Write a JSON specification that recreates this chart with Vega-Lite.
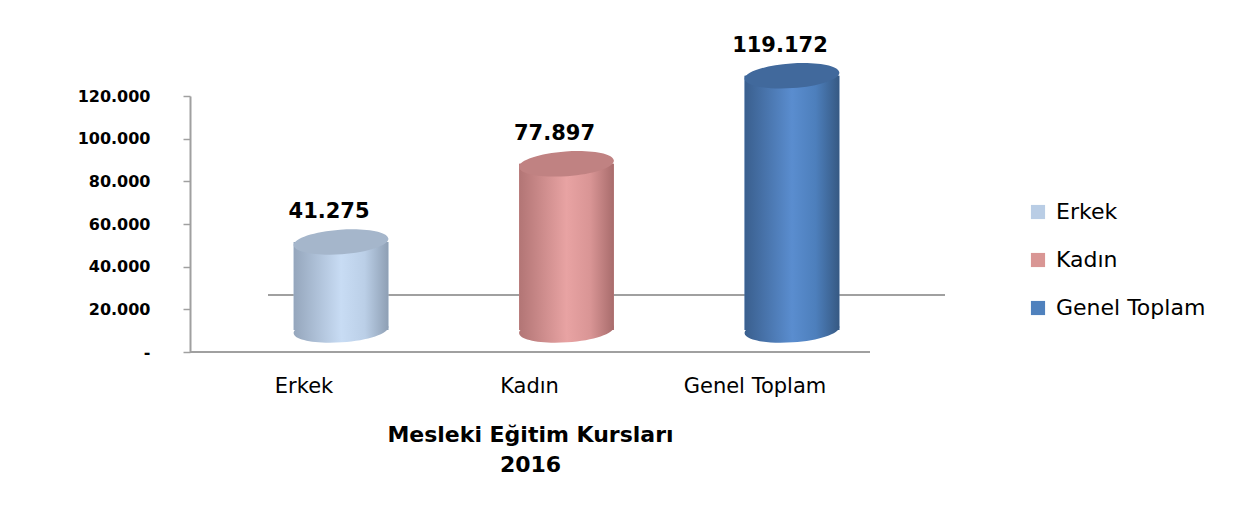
{
  "$schema": "https://vega.github.io/schema/vega-lite/v6.json",
  "width": 703,
  "height": 256,
  "autosize": {"type": "none"},
  "padding": {"left": 215, "top": 96, "right": 321, "bottom": 167},
  "background": "white",
  "config": {
    "view": {"stroke": null},
    "font": "DejaVu Sans",
    "locale": {"number": {"decimal": ",", "thousands": ".", "grouping": [3], "currency": ["", ""]}}
  },
  "data": {
    "values": [
      {"category": "Erkek", "value": 41275},
      {"category": "Kadın", "value": 77897},
      {"category": "Genel Toplam", "value": 119172}
    ]
  },
  "encoding": {
    "x": {
      "field": "category",
      "type": "nominal",
      "sort": null,
      "scale": {"domain": ["Erkek", "Kadın", "Genel Toplam"], "paddingInner": 0.58, "paddingOuter": 0.349},
      "axis": {
        "labelAngle": 0,
        "labelFont": "DejaVu Sans",
        "labelFontSize": 21,
        "labelColor": "#000000",
        "labelPadding": 23,
        "labelOffset": -37,
        "ticks": false,
        "domain": false,
        "title": ["Mesleki Eğitim Kursları", "2016"],
        "titleFont": "DejaVu Sans",
        "titleFontSize": 22,
        "titleFontWeight": "bold",
        "titleColor": "#000000",
        "titleX": 315,
        "titleY": 72,
        "titleBaseline": "top",
        "titleLineHeight": 30
      }
    }
  },
  "layer": [
    {
      "mark": {"type": "rule", "color": "#a0a0a0", "strokeWidth": 2, "yOffset": -57, "xOffset": -73, "x2Offset": 153},
      "encoding": {
        "y": {"datum": 0, "type": "quantitative"},
        "x": {"datum": "Erkek", "type": "nominal"},
        "x2": {"datum": "Genel Toplam"}
      }
    },
    {
      "mark": {"type": "rule", "color": "#a0a0a0", "strokeWidth": 2, "xOffset": -151, "x2Offset": 78},
      "encoding": {
        "y": {"datum": 0, "type": "quantitative"},
        "x": {"datum": "Erkek", "type": "nominal"},
        "x2": {"datum": "Genel Toplam"}
      }
    },
    {
      "mark": {"type": "bar", "yOffset": -22, "y2Offset": -22},
      "encoding": {
        "y": {
          "field": "value",
          "type": "quantitative",
          "scale": {"domain": [0, 120000], "nice": false},
          "axis": {
            "values": [0, 20000, 40000, 60000, 80000, 100000, 120000],
            "labelExpr": "datum.value == 0 ? '-\u00a0\u00a0' : replace(format(datum.value, ',.0f'), ',', '.')",
            "labelFont": "DejaVu Sans",
            "labelFontSize": 16,
            "labelFontWeight": "bold",
            "labelColor": "#000000",
            "labelPadding": 33,
            "tickSize": 7,
            "tickColor": "#a0a0a0",
            "tickWidth": 1.5,
            "domainColor": "#a0a0a0",
            "domainWidth": 2,
            "grid": false,
            "offset": 25,
            "title": null
          }
        },
        "color": {
          "field": "category",
          "type": "nominal",
          "sort": null,
          "scale": {"domain": ["Erkek", "Kadın", "Genel Toplam"], "range": ["#B9CDE5", "#D99694", "#4F81BD"]},
          "legend": {
            "orient": "none",
            "legendX": 812,
            "legendY": 105,
            "title": null,
            "symbolType": "square",
            "symbolSize": 200,
            "symbolStrokeWidth": 0,
            "labelFont": "DejaVu Sans",
            "labelFontSize": 22,
            "labelColor": "#000000",
            "labelOffset": 7,
            "rowPadding": 26
          }
        }
      }
    },
    {
      "transform": [{"filter": "datum.category == 'Erkek'"}],
      "layer": [
        {
          "mark": {"type": "point", "filled": true, "shape": "M -1 0 A 1 0.26 0 1 0 1 0 A 1 0.26 0 1 0 -1 0 Z", "size": 9025, "opacity": 1, "yOffset": -22, "angle": -4,
            "color": {"gradient": "linear", "x1": 0, "x2": 1, "y1": 0, "y2": 0,
              "stops": [{"offset": 0, "color": "#95A6BC"}, {"offset": 0.5, "color": "#C8DCF4"}, {"offset": 0.75, "color": "#BBCFE7"}, {"offset": 1, "color": "#8E9FB4"}]}},
          "encoding": {"y": {"datum": 0, "type": "quantitative"}}
        },
        {
          "mark": {"type": "bar", "yOffset": -22, "y2Offset": -22,
            "color": {"gradient": "linear", "x1": 0, "x2": 1, "y1": 0, "y2": 0,
              "stops": [{"offset": 0, "color": "#95A6BC"}, {"offset": 0.5, "color": "#C8DCF4"}, {"offset": 0.75, "color": "#BBCFE7"}, {"offset": 1, "color": "#8E9FB4"}]}},
          "encoding": {"y": {"field": "value", "type": "quantitative"}}
        },
        {
          "mark": {"type": "point", "filled": true, "shape": "M -1 0 A 1 0.26 0 1 0 1 0 A 1 0.26 0 1 0 -1 0 Z", "size": 9025, "opacity": 1, "yOffset": -22, "angle": -4, "color": "#A5B6CB"},
          "encoding": {"y": {"field": "value", "type": "quantitative"}}
        }
      ]
    },
    {
      "transform": [{"filter": "datum.category == 'Kadın'"}],
      "layer": [
        {
          "mark": {"type": "point", "filled": true, "shape": "M -1 0 A 1 0.26 0 1 0 1 0 A 1 0.26 0 1 0 -1 0 Z", "size": 9025, "opacity": 1, "yOffset": -22, "angle": -4,
            "color": {"gradient": "linear", "x1": 0, "x2": 1, "y1": 0, "y2": 0,
              "stops": [{"offset": 0, "color": "#B27575"}, {"offset": 0.5, "color": "#E8A3A3"}, {"offset": 0.75, "color": "#D99595"}, {"offset": 1, "color": "#A86C6C"}]}},
          "encoding": {"y": {"datum": 0, "type": "quantitative"}}
        },
        {
          "mark": {"type": "bar", "yOffset": -22, "y2Offset": -22,
            "color": {"gradient": "linear", "x1": 0, "x2": 1, "y1": 0, "y2": 0,
              "stops": [{"offset": 0, "color": "#B27575"}, {"offset": 0.5, "color": "#E8A3A3"}, {"offset": 0.75, "color": "#D99595"}, {"offset": 1, "color": "#A86C6C"}]}},
          "encoding": {"y": {"field": "value", "type": "quantitative"}}
        },
        {
          "mark": {"type": "point", "filled": true, "shape": "M -1 0 A 1 0.26 0 1 0 1 0 A 1 0.26 0 1 0 -1 0 Z", "size": 9025, "opacity": 1, "yOffset": -22, "angle": -4, "color": "#C08282"},
          "encoding": {"y": {"field": "value", "type": "quantitative"}}
        }
      ]
    },
    {
      "transform": [{"filter": "datum.category == 'Genel Toplam'"}],
      "layer": [
        {
          "mark": {"type": "point", "filled": true, "shape": "M -1 0 A 1 0.26 0 1 0 1 0 A 1 0.26 0 1 0 -1 0 Z", "size": 9025, "opacity": 1, "yOffset": -22, "angle": -4,
            "color": {"gradient": "linear", "x1": 0, "x2": 1, "y1": 0, "y2": 0,
              "stops": [{"offset": 0, "color": "#3A5F8E"}, {"offset": 0.5, "color": "#5A8DCF"}, {"offset": 0.75, "color": "#4D7FBC"}, {"offset": 1, "color": "#365983"}]}},
          "encoding": {"y": {"datum": 0, "type": "quantitative"}}
        },
        {
          "mark": {"type": "bar", "yOffset": -22, "y2Offset": -22,
            "color": {"gradient": "linear", "x1": 0, "x2": 1, "y1": 0, "y2": 0,
              "stops": [{"offset": 0, "color": "#3A5F8E"}, {"offset": 0.5, "color": "#5A8DCF"}, {"offset": 0.75, "color": "#4D7FBC"}, {"offset": 1, "color": "#365983"}]}},
          "encoding": {"y": {"field": "value", "type": "quantitative"}}
        },
        {
          "mark": {"type": "point", "filled": true, "shape": "M -1 0 A 1 0.26 0 1 0 1 0 A 1 0.26 0 1 0 -1 0 Z", "size": 9025, "opacity": 1, "yOffset": -22, "angle": -4, "color": "#41699C"},
          "encoding": {"y": {"field": "value", "type": "quantitative"}}
        }
      ]
    },
    {
      "mark": {"type": "text", "font": "DejaVu Sans", "fontSize": 21, "fontWeight": "bold", "baseline": "middle", "dy": -52, "dx": -12, "color": "#000000"},
      "encoding": {
        "y": {"field": "value", "type": "quantitative"},
        "text": {"field": "value", "type": "quantitative", "format": ",.0f"}
      }
    }
  ]
}
